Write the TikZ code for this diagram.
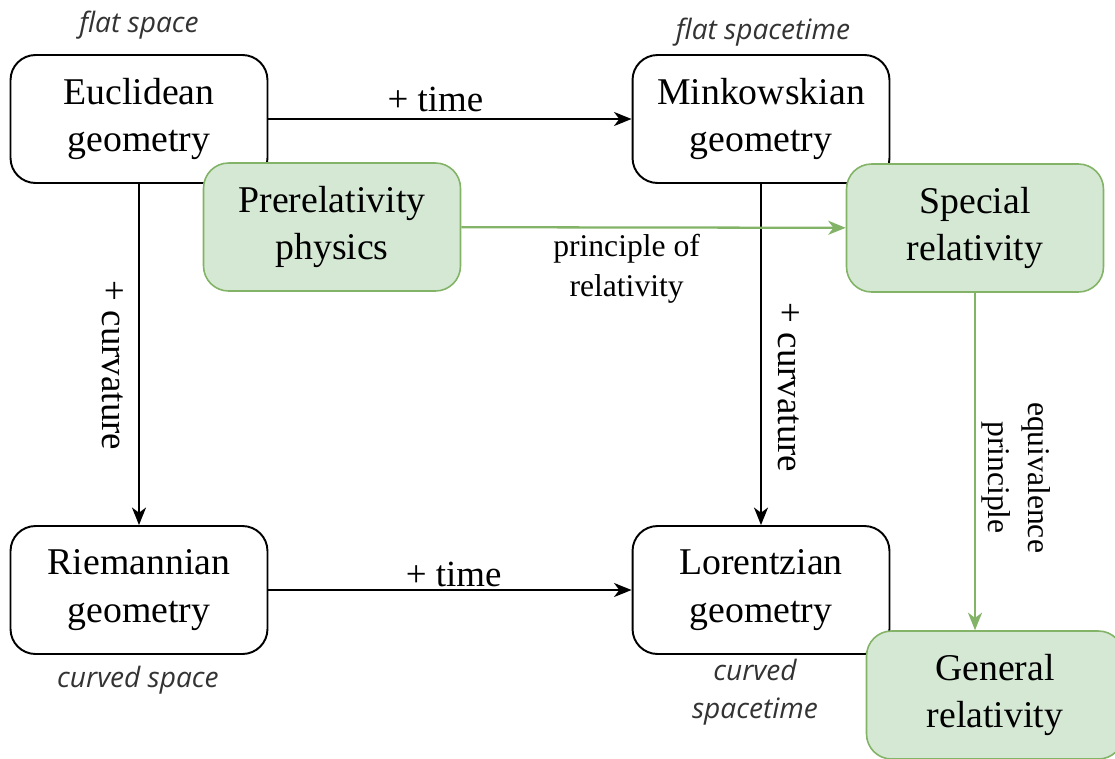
\documentclass[tikz,border=0pt]{standalone}
\usepackage{fontspec}
\setmainfont{Liberation Serif}
\newfontfamily\notefont{Open Sans}
\usetikzlibrary{positioning,arrows.meta}
\definecolor{relGreenFill}{HTML}{D5E8D4}
\definecolor{relGreenLine}{HTML}{82B366}
\definecolor{relNoteText}{HTML}{333333}
\tikzset{
  geo box/.style={
    rectangle, rounded corners=0.5cm, draw=black, fill=white,
    line width=1.1pt, minimum width=5.14cm, minimum height=2.56cm,
    align=center, inner sep=0pt,
    font=\fontsize{21.5}{27}\selectfont,
  },
  phys box/.style={
    geo box, draw=relGreenLine, fill=relGreenFill, line width=0.9pt,
  },
  geo edge/.style={
    -{Stealth[length=10pt,width=8pt,inset=3pt]}, line width=1.1pt,
  },
  phys edge/.style={
    geo edge, draw=relGreenLine, line width=1.3pt,   % green = physics
  },
  edge label/.style={font=\fontsize{21}{26}\selectfont},
  rule label/.style={font=\fontsize{18}{22.5}\selectfont, align=center},
  note label/.style={
    font=\notefont\itshape\fontsize{16}{22}\selectfont,
    text=relNoteText, align=center,
  },
}
\begin{document}
\begin{tikzpicture}[x=0.02cm, y=-0.02cm]

\clip (0,0) rectangle (1115,758);

% Geometries (the square)
\node[geo box] (euclid)    at (139,119) {Euclidean\\geometry};
\node[geo box] (minkowski) at (761,119) {Minkowskian\\geometry};
\node[geo box] (riemann)   at (139,590) {Riemannian\\geometry};
\node[geo box] (lorentz)   at (761,590) {Lorentzian\\geometry};

% Notes on the kind of space
\node[note label] (flatspace)  at (139,25)  {flat space};
\node[note label] (flatst)     at (763,32)  {flat spacetime};
\node[note label] (curvspace)  at (138,680) {curved space};
\node[note label] (curvst)     at (755,692) {curved\\spacetime};

% + time / + curvature (shifts are in the rotated frame)
\draw[geo edge] (euclid) -- node[edge label, pos=0.46, above=0pt] {+ time} (minkowski);
\draw[geo edge] (riemann) -- node[edge label, pos=0.51, above=-2pt] {+ time} (lorentz);
\draw[geo edge] (euclid) -- node[edge label, rotate=-90, midway,
  xshift=0.22cm, yshift=-0.52cm] {+ curvature} (riemann);
\draw[geo edge] (minkowski) -- node[edge label, rotate=-90, midway,
  xshift=0.66cm, yshift=0.56cm] {+ curvature} (lorentz);

% Physics (green)
\node[phys box] (prerel)  at (332,227) {Prerelativity\\physics};
\node[phys box] (special) at (975,228) {Special\\relativity};
\node[phys box] (general) at (995,695) {General\\relativity};

\draw[phys edge] (prerel) -- node[rule label, pos=0.43, below=0pt]
  {principle of\\relativity} (special);
\draw[phys edge] (special.south) -- node[rule label, rotate=-90, midway,
  xshift=0.32cm, yshift=0.82cm] {equivalence\\principle}
  (special.south |- general.north);

\end{tikzpicture}
\end{document}
